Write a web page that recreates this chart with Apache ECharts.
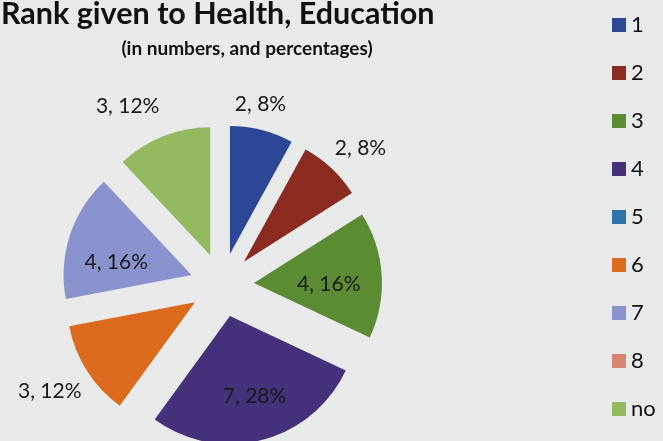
<!DOCTYPE html>
<html>
<head>
<meta charset="utf-8">
<script src="https://cdn.jsdelivr.net/npm/echarts@6/dist/echarts.min.js"></script>
<style>
  html, body { margin: 0; padding: 0; background: #e9eaea; }
  #chart { width: 663px; height: 441px; }
</style>
</head>
<body>
<div id="chart"></div>
<script>
// Ranks and how many respondents gave each one
const ranks = ['1', '2', '3', '4', '5', '6', '7', '8', 'no'];
const counts = [2, 2, 4, 7, 0, 3, 4, 0, 3];
const rankColors = ['#2c4796', '#8b2a1e', '#5b8b32', '#45307a', '#2e74aa',
                    '#dd6b1e', '#8a93cd', '#d6876e', '#94ba60'];

// Radial distance of each label beyond the slice edge (negative = inside the slice)
const labelReach = { '1': 27, '2': 35, '3': -53, '4': -45, '5': 0, '6': 44, '7': -52, '8': 0, 'no': 42 };
// Small extra nudges for the label boxes, [dx, dy]
const labelNudge = { '1': [-8, 0], '2': [5, 5], '3': [0, 6], '4': [4, 0], '5': [0, 0],
                     '6': [0, -3], '7': [-3, 11], '8': [0, 0], 'no': [-20, 9] };

const chart = echarts.init(document.getElementById('chart'), null, { renderer: 'canvas' });

const pieData = ranks.map((name, i) => ({
  name: name,
  value: counts[i],
  selected: true,
  itemStyle: { color: rankColors[i] },
  labelLine: { show: false, length: labelReach[name], length2: 0 }
}));

chart.setOption({
  backgroundColor: '#e9eaea',
  animation: false,
  title: [
    {
      text: 'Rank given to Health, Education',
      left: 1, top: -1, padding: 0,
      textStyle: { fontFamily: 'Lato', fontWeight: 'bold', fontSize: 30.5, color: '#111' }
    },
    {
      text: '(in numbers, and percentages)',
      left: 247, top: 39, padding: 0, textAlign: 'center',
      textStyle: { fontFamily: 'Lato', fontWeight: 'bold', fontSize: 19, color: '#111' }
    }
  ],
  legend: {
    orient: 'vertical',
    left: 612, top: 14,
    icon: 'rect',
    itemWidth: 14, itemHeight: 14, itemGap: 26,
    padding: 0,
    textStyle: { fontFamily: 'Lato', fontSize: 22, color: '#111' },
    data: ranks
  },
  series: [{
    type: 'pie',
    center: [222, 285],
    radius: 128,
    startAngle: 90,
    clockwise: true,
    selectedMode: 'multiple',
    selectedOffset: 32,
    avoidLabelOverlap: false,
    minShowLabelAngle: 1,
    emphasis: { disabled: true },
    label: {
      show: true,
      position: 'outside',
      distanceToLabelLine: 0,
      alignTo: 'none',
      overflow: 'none',
      fontFamily: 'Lato',
      fontSize: 21,
      color: '#1a1a1a',
      formatter: p => p.value + ', ' + Math.round(p.percent) + '%'
    },
    labelLine: { show: false },
    labelLayout: p => {
      const n = labelNudge[ranks[p.dataIndex]];
      return { align: 'center', verticalAlign: 'middle', dx: n[0], dy: n[1] };
    },
    data: pieData
  }]
});
</script>
</body>
</html>
